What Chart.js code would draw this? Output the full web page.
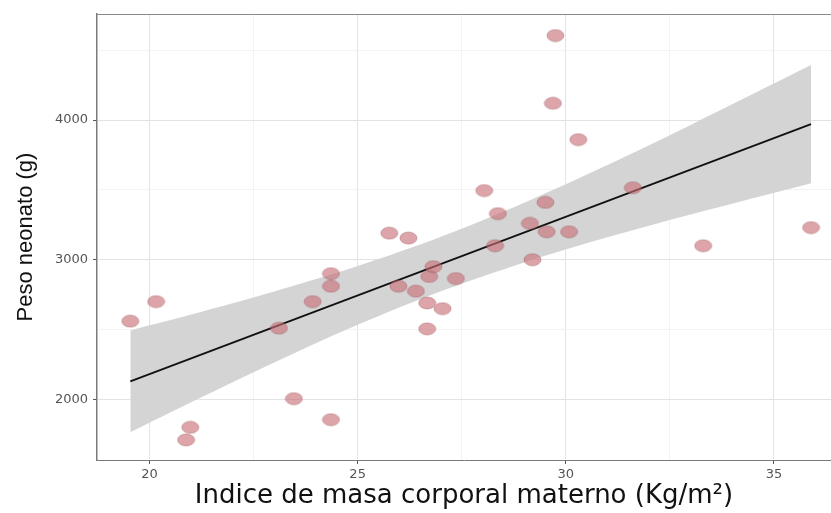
<!DOCTYPE html>
<html>
<head>
<meta charset="utf-8">
<script src="https://cdn.jsdelivr.net/npm/chart.js@4/dist/chart.umd.min.js"></script>
<style>
  body { margin: 0; background: #fff; }
  canvas { display: block; }
</style>
</head>
<body>
<canvas id="graphCanvas" width="831" height="513"></canvas>
<script>
// IMC materno (x) y peso del neonato (y)
var imc = [19.54, 20.16, 20.88, 20.98, 23.11, 23.47, 23.92, 24.36, 24.36, 24.36,
           25.76, 25.98, 26.22, 26.40, 26.67, 26.67, 26.72, 26.82, 27.04, 27.36,
           28.04, 28.30, 28.37, 29.14, 29.20, 29.51, 29.54, 29.69, 29.75, 30.08,
           30.30, 31.61, 33.30, 35.89];
var peso = [2560, 2700, 1710, 1800, 2510, 2005, 2700, 2900, 2810, 1855,
            3190, 2810, 3155, 2775, 2690, 2505, 2880, 2950, 2650, 2865,
            3495, 3100, 3330, 3260, 3000, 3410, 3200, 4120, 4605, 3200,
            3860, 3515, 3100, 3230];

// recta de regresion y banda de confianza
var fitX = [19.54, 35.89];
var fitY = [2129, 3970];
var bandX = [19.54, 21, 23, 25, 27, 29, 31, 33, 35.89];
var bandUpper = [2493, 2607, 2772, 2954, 3164, 3408, 3678, 3965, 4393];
var bandLower = [1765, 1979, 2264, 2534, 2774, 2980, 3160, 3323, 3547];

var xTicks = [20, 22.5, 25, 27.5, 30, 32.5, 35];
var yTicks = [2000, 2500, 3000, 3500, 4000, 4500];

showGraph();

function pairs(xs, ys) {
    var out = [];
    for (var i in xs) {
        out.push({x: xs[i], y: ys[i]});
    }
    return out;
}

function ellipse(w, h) {
    var c = document.createElement('canvas');
    c.width = w + 2;
    c.height = h + 2;
    var g = c.getContext('2d');
    g.beginPath();
    g.ellipse(c.width / 2, c.height / 2, w / 2, h / 2, 0, 0, Math.PI * 2);
    g.fillStyle = 'rgba(200,110,118,0.62)';
    g.fill();
    g.strokeStyle = 'rgba(150,80,86,0.4)';
    g.lineWidth = 1;
    g.stroke();
    return c;
}

function showGraph()
{
    var topBorder = {
        id: 'topBorder',
        afterDraw: function (chart) {
            var a = chart.chartArea;
            var ctx = chart.ctx;
            ctx.save();
            ctx.strokeStyle = '#8a8a8a';
            ctx.lineWidth = 1;
            ctx.beginPath();
            ctx.moveTo(a.left, a.top + 0.5);
            ctx.lineTo(a.right, a.top + 0.5);
            ctx.stroke();
            ctx.restore();
        }
    };

    var gridColor = function (major) {
        return function (ctx) {
            if (!ctx.tick) return '#e6e6e6';
            return major(ctx.tick.value) ? '#e3e3e3' : '#f3f3f3';
        };
    };
    var tickColor = function (major) {
        return function (ctx) {
            if (!ctx.tick) return '#555';
            return major(ctx.tick.value) ? '#555' : 'rgba(0,0,0,0)';
        };
    };
    var xMajor = function (v) { return v % 5 === 0; };
    var yMajor = function (v) { return v % 1000 === 0; };

    var chartdata = {
        datasets: [
            {
                type: 'scatter',
                label: 'Peso',
                data: pairs(imc, peso),
                pointStyle: ellipse(17, 12),
                pointRadius: 8,
                order: 0
            },
            {
                type: 'line',
                label: 'Ajuste',
                data: pairs(fitX, fitY),
                borderColor: '#111',
                borderWidth: 1.8,
                pointRadius: 0,
                fill: false,
                order: 1
            },
            {
                type: 'line',
                label: 'IC superior',
                data: pairs(bandX, bandUpper),
                borderWidth: 0,
                borderColor: 'rgba(0,0,0,0)',
                backgroundColor: 'rgb(212,212,212)',
                pointRadius: 0,
                tension: 0.3,
                fill: '+1',
                order: 2
            },
            {
                type: 'line',
                label: 'IC inferior',
                data: pairs(bandX, bandLower),
                borderWidth: 0,
                borderColor: 'rgba(0,0,0,0)',
                pointRadius: 0,
                tension: 0.3,
                fill: false,
                order: 3
            }
        ]
    };

    var graphTarget = document.getElementById("graphCanvas");

    new Chart(graphTarget, {
        type: 'scatter',
        data: chartdata,
        plugins: [topBorder],
        options: {
            responsive: false,
            animation: false,
            layout: { autoPadding: false, padding: { top: 14, right: 0, bottom: 0, left: 0 } },
            plugins: {
                legend: { display: false },
                tooltip: { enabled: false }
            },
            scales: {
                x: {
                    type: 'linear',
                    min: 18.74,
                    max: 36.37,
                    afterBuildTicks: function (scale) {
                        scale.ticks = xTicks.map(function (v) { return {value: v}; });
                    },
                    afterFit: function (scale) { scale.height = 53; },
                    ticks: {
                        autoSkip: false,
                        maxRotation: 0,
                        padding: 3,
                        color: '#555',
                        font: { family: 'DejaVu Sans', size: 13 },
                        callback: function (v) { return xMajor(v) ? String(v) : ''; }
                    },
                    grid: {
                        color: gridColor(xMajor),
                        tickColor: tickColor(xMajor),
                        tickLength: 4,
                        lineWidth: 1
                    },
                    border: { display: true, color: '#7a7a7a', width: 1 },
                    title: {
                        display: true,
                        text: 'Indice de masa corporal materno (Kg/m\u00b2)',
                        color: '#111',
                        font: { family: 'DejaVu Sans', size: 26 },
                        padding: { top: 0, bottom: 1 }
                    }
                },
                y: {
                    type: 'linear',
                    min: 1566,
                    max: 4759,
                    afterBuildTicks: function (scale) {
                        scale.ticks = yTicks.map(function (v) { return {value: v}; });
                    },
                    afterFit: function (scale) { scale.width = 97; },
                    ticks: {
                        autoSkip: false,
                        padding: 5,
                        color: '#555',
                        font: { family: 'DejaVu Sans', size: 13 },
                        callback: function (v) { return yMajor(v) ? String(v) : ''; }
                    },
                    grid: {
                        color: gridColor(yMajor),
                        tickColor: tickColor(yMajor),
                        tickLength: 4,
                        lineWidth: 1
                    },
                    border: { display: true, color: '#7a7a7a', width: 1.5 },
                    title: {
                        display: true,
                        text: 'Peso neonato (g)',
                        color: '#111',
                        font: { family: "'Liberation Sans Narrow', 'Liberation Sans', sans-serif", size: 22 },
                        padding: { top: 13, bottom: 0 }
                    }
                }
            }
        }
    });
}
</script>
</body>
</html>
